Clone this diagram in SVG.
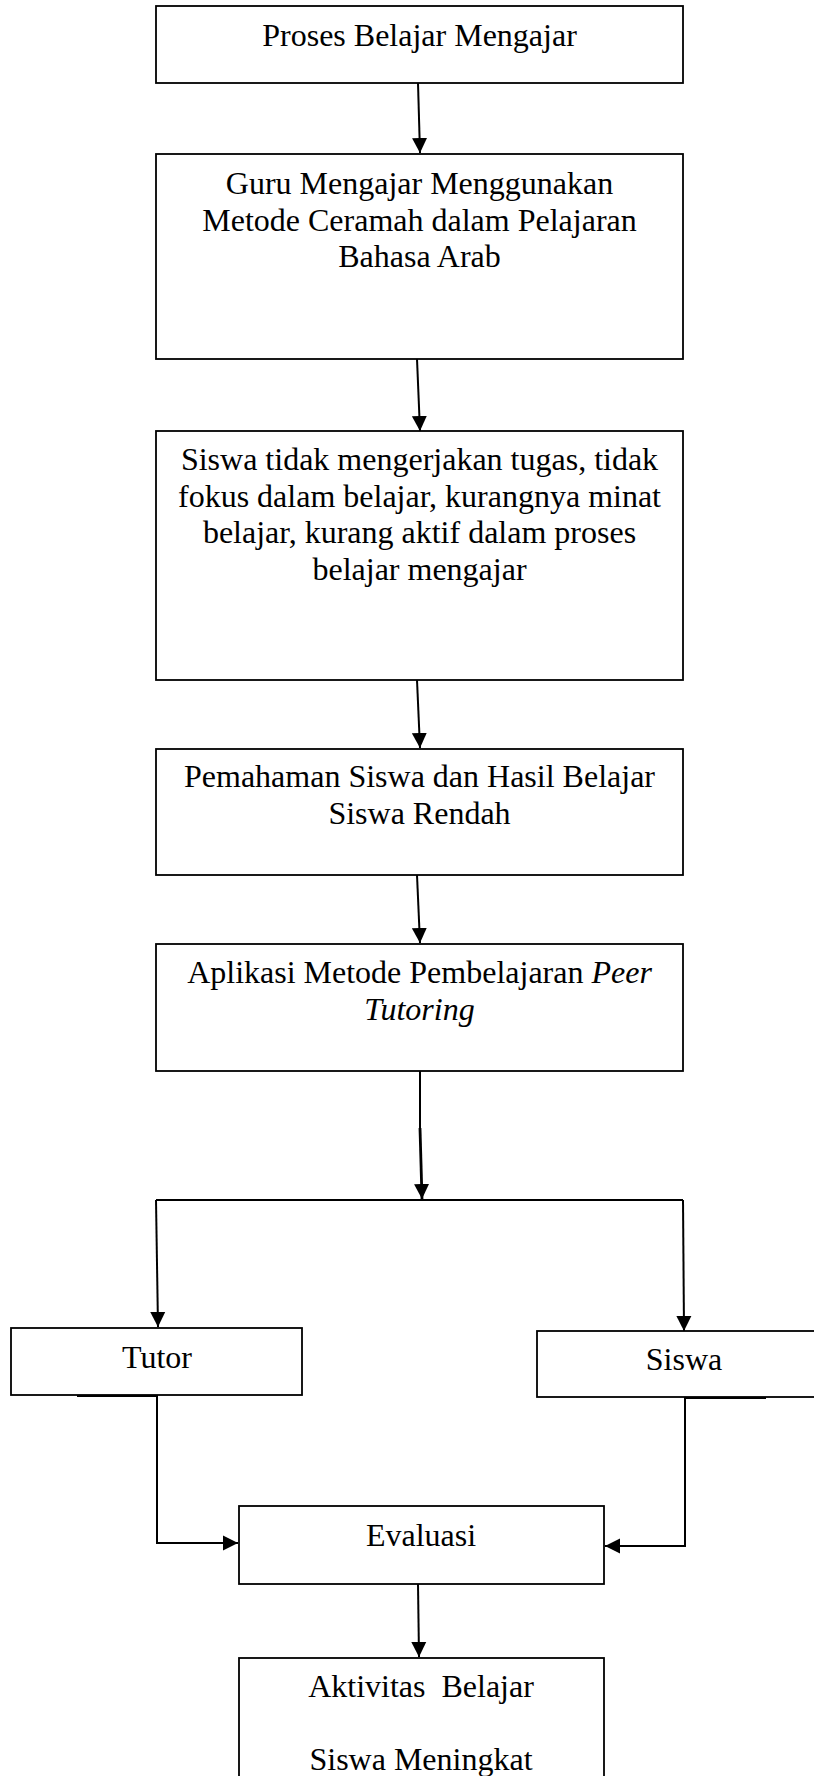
<svg xmlns="http://www.w3.org/2000/svg" width="814" height="1776" viewBox="0 0 814 1776">
<style>
.box{fill:#fff;stroke:#000;stroke-width:1.8}
.t{font-family:"Liberation Serif","Times New Roman",serif;font-size:32px;fill:#000;text-anchor:middle}
.c{fill:none;stroke:#000;stroke-width:2}
.ca{fill:none;stroke:#000;stroke-width:2;marker-end:url(#ah)}
</style>
<defs>
<marker id="ah" markerUnits="userSpaceOnUse" markerWidth="16" markerHeight="16" refX="15" refY="7.5" orient="auto" viewBox="0 0 16 15">
<path d="M0,0 L15,7.5 L0,15 z" fill="#000"/>
</marker>
</defs>
<rect width="814" height="1776" fill="#fff"/>
<g id="connectors">
<line class="ca" x1="418" y1="83" x2="420" y2="153"/>
<line class="ca" x1="417" y1="359" x2="420" y2="431"/>
<line class="ca" x1="417" y1="680" x2="420" y2="748"/>
<line class="ca" x1="417" y1="875" x2="420" y2="943"/>
<line class="c" x1="420" y1="1071" x2="420" y2="1130"/>
<line class="ca" x1="420" y1="1128" x2="422" y2="1199" style="stroke-width:2.8"/>
<line class="c" x1="156" y1="1200" x2="683" y2="1200"/>
<line class="ca" x1="156" y1="1200" x2="158" y2="1327"/>
<line class="ca" x1="683" y1="1200" x2="684" y2="1331"/>
<polyline class="ca" points="157,1395 157,1543 238,1543"/>
<polyline class="ca" points="685,1397 685,1546 605,1546"/>
<line class="ca" x1="418" y1="1584" x2="419" y2="1657"/>
<line class="c" x1="77" y1="1396" x2="157" y2="1396"/>
<line class="c" x1="685" y1="1398" x2="766" y2="1398"/>
</g>
<g id="n1">
<rect class="box" x="156" y="6" width="527" height="77"/>
<text class="t" x="419.5" y="46">Proses Belajar Mengajar</text>
</g>
<g id="n2">
<rect class="box" x="156" y="154" width="527" height="205"/>
<text class="t" x="419.5" y="194">Guru Mengajar Menggunakan</text>
<text class="t" x="419.5" y="231">Metode Ceramah dalam Pelajaran</text>
<text class="t" x="419.5" y="267">Bahasa Arab</text>
</g>
<g id="n3">
<rect class="box" x="156" y="431" width="527" height="249"/>
<text class="t" x="419.5" y="470">Siswa tidak mengerjakan tugas, tidak</text>
<text class="t" x="419.5" y="507">fokus dalam belajar, kurangnya minat</text>
<text class="t" x="419.5" y="543">belajar, kurang aktif dalam proses</text>
<text class="t" x="419.5" y="580">belajar mengajar</text>
</g>
<g id="n4">
<rect class="box" x="156" y="749" width="527" height="126"/>
<text class="t" x="419.5" y="787">Pemahaman Siswa dan Hasil Belajar</text>
<text class="t" x="419.5" y="824">Siswa Rendah</text>
</g>
<g id="n5">
<rect class="box" x="156" y="944" width="527" height="127"/>
<text class="t" x="419.5" y="983">Aplikasi Metode Pembelajaran <tspan font-style="italic">Peer</tspan></text>
<text class="t" x="419.5" y="1020" font-style="italic">Tutoring</text>
</g>
<g id="n6">
<rect class="box" x="11" y="1328" width="291" height="67"/>
<text class="t" x="157" y="1368">Tutor</text>
</g>
<g id="n7">
<rect class="box" x="537" y="1331" width="290" height="66"/>
<text class="t" x="684" y="1370">Siswa</text>
</g>
<g id="n8">
<rect class="box" x="239" y="1506" width="365" height="78"/>
<text class="t" x="421" y="1546">Evaluasi</text>
</g>
<g id="n9">
<rect class="box" x="239" y="1658" width="365" height="140"/>
<text class="t" x="421" y="1697" xml:space="preserve">Aktivitas  Belajar</text>
<text class="t" x="421" y="1770">Siswa Meningkat</text>
</g>
</svg>
